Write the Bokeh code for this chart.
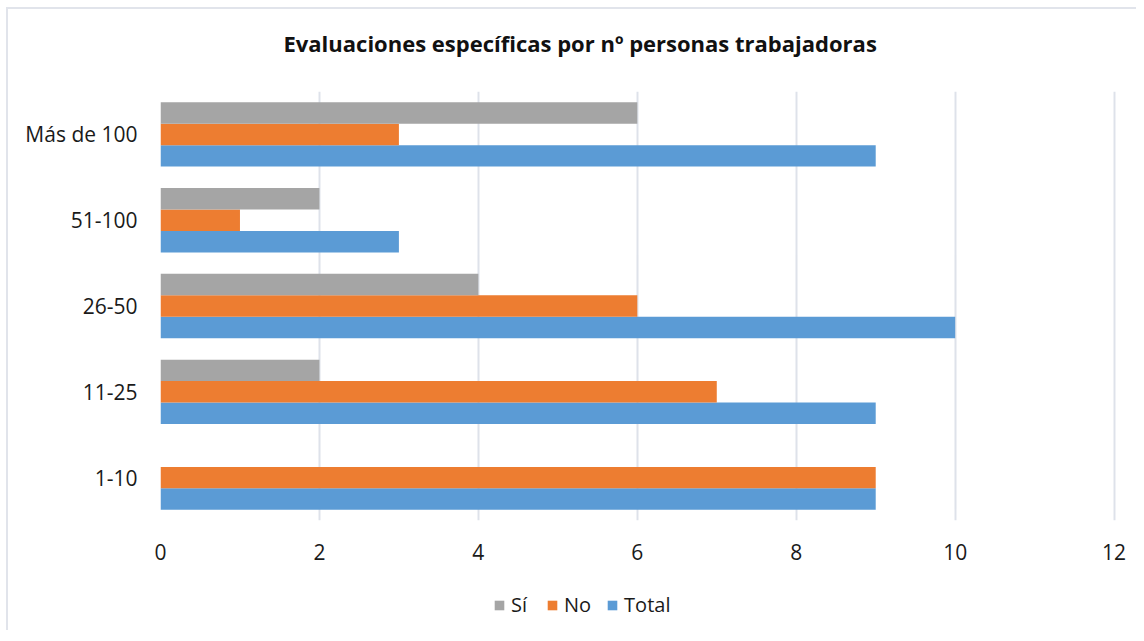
from bokeh.plotting import figure
from bokeh.layouts import column
from bokeh.models import FactorRange, Range1d, FixedTicker, Legend, LegendItem, ColumnDataSource, Title
from bokeh.transform import dodge
from bokeh.embed import file_html
from bokeh.resources import INLINE

categories = ["1-10", "11-25", "26-50", "51-100", "Más de 100"]
total = [9, 9, 10, 3, 9]
no = [9, 7, 6, 1, 3]
si = [0, 2, 4, 2, 6]
series_names = ["Sí", "No", "Total"]
x_ticks = [0, 2, 4, 6, 8, 10, 12]

colors = {"Sí": "#A5A5A5", "No": "#ED7D31", "Total": "#5B9BD5"}
FONT = "Open Sans"
BORDER = "2px solid #E1E4EB"

source = ColumnDataSource(data=dict(cat=categories, total=total, no=no, si=si))

# title strip
p0 = figure(
    width=1130, height=70,
    x_range=Range1d(0, 12.03), y_range=Range1d(0, 1),
    x_axis_type=None, y_axis_type=None,
    output_backend="svg", toolbar_location=None, min_border=0,
    styles={"margin-left": "6px", "margin-top": "7px",
            "border-left": BORDER, "border-top": BORDER},
)
p0.outline_line_color = None
p0.grid.grid_line_color = None
p0.title = Title(text="Evaluaciones específicas por nº personas trabajadoras",
                 align="left", text_font=FONT, text_font_size="22px",
                 text_font_style="bold", text_color="#111111", offset=123, standoff=32)

# main chart
p = figure(
    title=None,
    frame_width=954, frame_height=429,
    y_range=FactorRange(factors=categories, range_padding=0),
    x_range=Range1d(0, 12.03),
    output_backend="svg", toolbar_location=None,
    min_border_left=152, min_border_right=24, min_border_top=14, min_border_bottom=60,
    styles={"margin-left": "6px", "border-left": BORDER},
)
p.outline_line_color = None
p.background_fill_color = "white"
p.border_fill_color = "white"

bh = 0.25
p.hbar(y=dodge("cat", -bh, range=p.y_range), right="total", left=0, height=bh,
       source=source, fill_color=colors["Total"], line_color=None)
p.hbar(y=dodge("cat", 0, range=p.y_range), right="no", left=0, height=bh,
       source=source, fill_color=colors["No"], line_color=None)
p.hbar(y=dodge("cat", bh, range=p.y_range), right="si", left=0, height=bh,
       source=source, fill_color=colors["Sí"], line_color=None)

p.xaxis.ticker = FixedTicker(ticks=x_ticks)
p.xgrid.ticker = FixedTicker(ticks=x_ticks)
p.xgrid.grid_line_color = "#DEE2EA"
p.xgrid.grid_line_width = 2
p.ygrid.grid_line_color = None

for ax in (p.xaxis[0], p.yaxis[0]):
    ax.axis_line_color = None
    ax.major_tick_line_color = None
    ax.minor_tick_line_color = None
    ax.major_label_text_font = FONT
    ax.major_label_text_font_size = "21px"
    ax.major_label_text_color = "#1A1A1A"
p.yaxis.major_label_standoff = 17
p.xaxis.major_label_standoff = 17

# legend strip below the chart (hidden proxy renderers, same data)
p2 = figure(
    width=1130, height=50,
    y_range=FactorRange(factors=categories, range_padding=0),
    x_range=Range1d(0, 12.03),
    output_backend="svg", toolbar_location=None,
    x_axis_type=None, y_axis_type=None,
    min_border=0,
    styles={"margin-left": "6px", "border-left": BORDER},
)
p2.outline_line_color = None
p2.grid.grid_line_color = None
l_total = p2.hbar(y=dodge("cat", -bh, range=p2.y_range), right="total", left=0, height=bh,
                  source=source, fill_color=colors["Total"], line_color=None, visible=False)
l_no = p2.hbar(y=dodge("cat", 0, range=p2.y_range), right="no", left=0, height=bh,
               source=source, fill_color=colors["No"], line_color=None, visible=False)
l_si = p2.hbar(y=dodge("cat", bh, range=p2.y_range), right="si", left=0, height=bh,
               source=source, fill_color=colors["Sí"], line_color=None, visible=False)

legend = Legend(items=[
    LegendItem(label=series_names[0], renderers=[l_si]),
    LegendItem(label=series_names[1], renderers=[l_no]),
    LegendItem(label=series_names[2], renderers=[l_total]),
], orientation="horizontal", location=(333, 12))
legend.label_text_font = FONT
legend.label_text_font_size = "20px"
legend.label_text_color = "#1A1A1A"
legend.glyph_width = 12
legend.glyph_height = 12
legend.spacing = 15
legend.label_standoff = 6
legend.border_line_color = None
legend.background_fill_alpha = 0
legend.padding = 0
legend.margin = 0
legend.click_policy = "none"
p2.add_layout(legend, "center")

layout = column(p0, p, p2, spacing=0)
open("out.html", "w").write(file_html(layout, INLINE))
